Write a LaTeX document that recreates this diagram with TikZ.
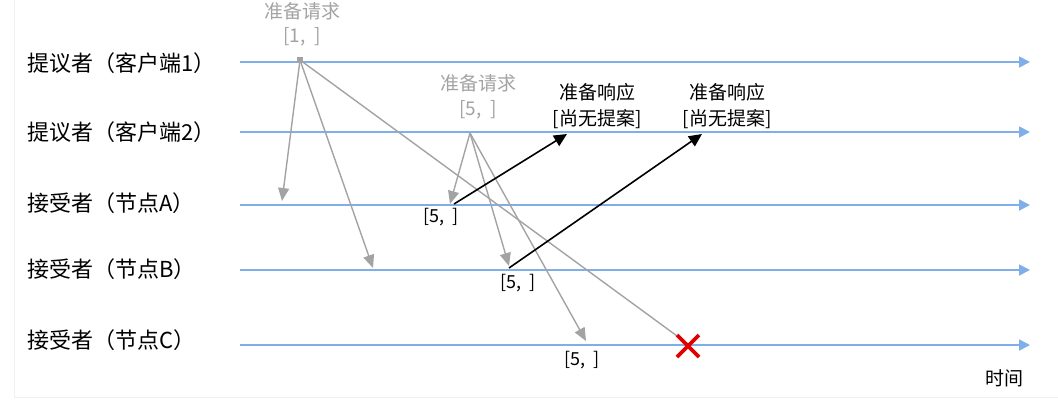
\documentclass[tikz,border=0pt]{standalone}
\usepackage{fontspec}
\setmainfont{Noto Sans CJK SC}
\usetikzlibrary{arrows.meta}
\definecolor{lineblue}{HTML}{7FAEE8}
\definecolor{msggrey}{HTML}{A3A3A3}
\definecolor{xred}{HTML}{E00000}
\tikzset{
  timeline/.style={draw=lineblue, line width=1.8pt, -{Triangle[length=11pt,width=11pt]}},
  lbl/.style={font=\fontsize{22}{24}\selectfont, anchor=west, inner sep=0pt},
  req/.style={draw=msggrey, line width=1.4pt, -{Triangle[length=13pt,width=11pt]}},
  resp/.style={draw=black, line width=1.6pt, -{Triangle[length=13pt,width=12pt]}},
  greytxt/.style={text=msggrey, font=\fontsize{19}{21}\selectfont, inner sep=0pt, align=center},
  blacktxt/.style={text=black, font=\fontsize{19}{21}\selectfont, inner sep=0pt, align=center},
  valtxt/.style={text=black, font=\fontsize{18}{20}\selectfont, inner sep=0pt},
  cross/.style={draw=xred, line width=3.8pt}
}
\begin{document}
\begin{tikzpicture}[x=1pt,y=-1pt]
\useasboundingbox (0,0) rectangle (1058,400);
\draw[draw=black!6, line width=0.8pt] (14,-2) -- (14,397) -- (1060,397);

% participant labels
\node[lbl] (l1) at (27,63) {提议者（客户端1）};
\node[lbl] (l2) at (27,132) {提议者（客户端2）};
\node[lbl] (l3) at (27,203) {接受者（节点A）};
\node[lbl] (l4) at (27,269) {接受者（节点B）};
\node[lbl] (l5) at (27,340) {接受者（节点C）};

% timelines
\coordinate (s1) at (240,62);  \coordinate (e1) at (1030,62);
\coordinate (s2) at (240,132); \coordinate (e2) at (1030,132);
\coordinate (s3) at (240,205); \coordinate (e3) at (1030,205);
\coordinate (s4) at (240,270); \coordinate (e4) at (1030,270);
\coordinate (s5) at (240,345); \coordinate (e5) at (1030,345);
\foreach \i in {1,...,5} \draw[timeline] (s\i) -- (e\i);

% prepare request [1, ]
\node[greytxt] (r1a) at (302,11) {准备请求};
\node[greytxt] (r1b) at (302,37) {[1,\ \ ]};
\coordinate (p1) at (300,60);
\fill[msggrey] (297,57) rectangle (303,63);
\coordinate (a1) at (282,201);
\coordinate (b1) at (373,268);
\coordinate (c1) at (688,344);
\draw[req] (p1) -- (a1);
\draw[req] (p1) -- (b1);
\draw[draw=msggrey, line width=1.4pt] (p1) -- (c1);

% prepare request [5, ]
\node[greytxt] (r2a) at (478,83) {准备请求};
\node[greytxt] (r2b) at (478,110) {[5,\ \ ]};
\coordinate (p2) at (470,133);
\coordinate (a2) at (450,204);
\coordinate (b2) at (509,266);
\coordinate (c2) at (586,341);
\draw[req] (p2) -- (a2);
\draw[req] (p2) -- (b2);
\draw[req] (p2) -- (c2);

% received values
\node[valtxt] (v1) at (441,217) {[5,\ \ ]};
\node[valtxt] (v2) at (518,283) {[5,\ \ ]};
\node[valtxt] (v3) at (582,360) {[5,\ \ ]};

% responses
\coordinate (ra) at (454,204);
\coordinate (ta) at (567,134);
\coordinate (rb) at (509,268);
\coordinate (tb) at (702,134);
\draw[resp] (ra) -- (ta);
\draw[resp] (rb) -- (tb);
\node[blacktxt] (q1a) at (597,92) {准备响应};
\node[blacktxt] (q1b) at (597,119) {[尚无提案]};
\node[blacktxt] (q2a) at (727,92) {准备响应};
\node[blacktxt] (q2b) at (727,119) {[尚无提案]};

% lost message
\coordinate (x1) at (677,335); \coordinate (x2) at (699,357);
\coordinate (x3) at (699,335); \coordinate (x4) at (677,357);
\draw[cross] (x1) -- (x2);
\draw[cross] (x3) -- (x4);

% time axis label
\node[blacktxt] (time) at (1004,378) {时间};
\end{tikzpicture}
\end{document}
